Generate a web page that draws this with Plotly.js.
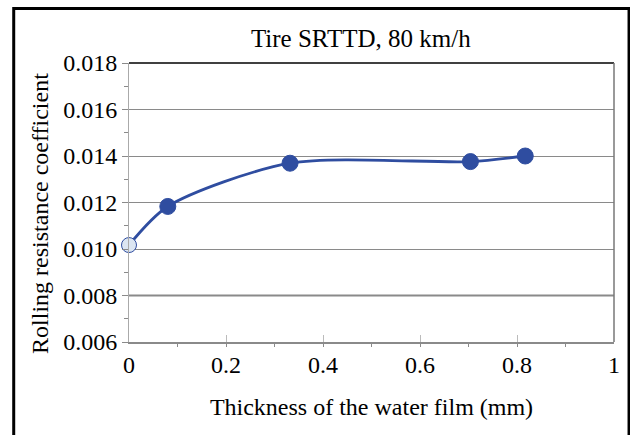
<!DOCTYPE html>
<html>
<head>
<meta charset="utf-8">
<script src="https://cdn.plot.ly/plotly-3.0.1.min.js"></script>
<style>
html,body{margin:0;padding:0;background:#fff;}
#chart{width:630px;height:435px;}
</style>
</head>
<body>
<div id="chart"></div>
<script>
// Data
var thickness = [0, 0.08, 0.332, 0.704, 0.817];
var rollingCoef = [0.01017, 0.01183, 0.01369, 0.01376, 0.01400];
var markerFill = ['#DCE6F2', '#2F4DA0', '#2F4DA0', '#2F4DA0', '#2F4DA0'];
var markerSize = [15, 16, 16, 16, 16];

var chartTitle = 'Tire SRTTD, 80 km/h';
var xTitle = 'Thickness of the water film (mm)';
var yTitle = 'Rolling resistance coefficient';
var xRange = [0, 1];
var yRange = [0.006, 0.018];

var serif = 'Liberation Serif, Times New Roman, serif';
var grid = '#8a8a8a';

var trace = {
  x: thickness,
  y: rollingCoef,
  type: 'scatter',
  mode: 'lines+markers',
  line: {color: '#2F4DA0', width: 2.8, shape: 'spline', smoothing: 0.8},
  marker: {color: markerFill, size: markerSize, opacity: 1, line: {color: '#2F4DA0', width: 1}},
  opacity: 1,
  cliponaxis: false,
  hoverinfo: 'x+y'
};

var layout = {
  width: 630, height: 435,
  margin: {l: 129, r: 16, t: 63, b: 93},
  paper_bgcolor: '#ffffff',
  plot_bgcolor: '#ffffff',
  showlegend: false,
  font: {family: serif, color: '#000', size: 24},
  title: {text: chartTitle, font: {family: serif, size: 25, color: '#000'},
          x: 0.478, xref: 'paper', xanchor: 'center', y: 0.912, yref: 'container', yanchor: 'middle'},
  xaxis: {
    range: xRange, dtick: 0.2, tick0: 0,
    showgrid: false, zeroline: false,
    showline: true, linecolor: grid, linewidth: 2,
    ticks: 'inside', ticklen: 7, tickcolor: '#bbbbbb', tickwidth: 1,
    minor: {dtick: 0.1, ticks: 'outside', ticklen: 3, tickcolor: grid, tickwidth: 1, showgrid: false},
    tickfont: {family: serif, size: 24, color: '#000'},
    title: {text: xTitle, font: {family: serif, size: 24, color: '#000'}, standoff: 21},
    fixedrange: true
  },
  yaxis: {
    range: yRange, dtick: 0.002, tick0: 0.006, tickformat: '.3f',
    showgrid: true, gridcolor: grid, gridwidth: 1,
    zeroline: false,
    showline: true, linecolor: '#aaaaaa', linewidth: 1,
    ticks: 'outside', ticklen: 6, tickcolor: grid, tickwidth: 1,
    minor: {dtick: 0.001, ticks: 'outside', ticklen: 4, tickcolor: grid, tickwidth: 1, showgrid: false},
    tickfont: {family: serif, size: 24, color: '#000'},
    fixedrange: true
  },
  annotations: [
    {text: yTitle, xref: 'paper', yref: 'paper', x: -0.1835, y: 0.459, xanchor: 'center', yanchor: 'middle',
     textangle: -90, showarrow: false, font: {family: serif, size: 24, color: '#000'}}
  ],
  shapes: [
    {type: 'line', xref: 'paper', yref: 'paper', x0: 0, x1: 1, y0: 1, y1: 1, line: {color: '#000', width: 1.5}},
    {type: 'line', xref: 'paper', yref: 'paper', x0: 1, x1: 1, y0: 0, y1: 1, line: {color: '#777', width: 1.5}},
    {type: 'line', xref: 'paper', yref: 'y', x0: 0, x1: 1, y0: 0.008, y1: 0.008, line: {color: grid, width: 2}, layer: 'below'},
    {type: 'rect', xref: 'paper', yref: 'paper', x0: -0.2377, x1: 1.031, y0: -0.4, y1: 1.1953, line: {color: '#000', width: 3}, fillcolor: 'rgba(0,0,0,0)'}
  ]
};

Plotly.newPlot('chart', [trace], layout, {staticPlot: true, displayModeBar: false});
</script>
</body>
</html>
